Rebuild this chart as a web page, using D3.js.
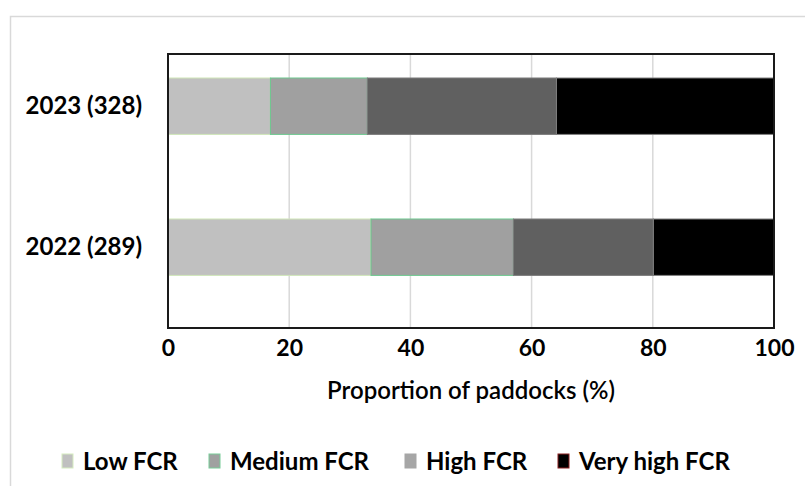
<!DOCTYPE html>
<html>
<head>
<meta charset="utf-8">
<script src="https://cdn.jsdelivr.net/npm/d3@7"></script>
<style>
  html, body { margin: 0; padding: 0; background: #fff; }
  svg { display: block; }
  text { font-family: Lato, "Open Sans", sans-serif; fill: #000; }
</style>
</head>
<body>
<svg id="chart" width="805" height="486"></svg>
<script>
// Paddock counts per year and the share (%) in each FCR class
const years = ["2023 (328)", "2022 (289)"];
const classes = ["Low FCR", "Medium FCR", "High FCR", "Very high FCR"];
const lowFCR      = [16.9, 33.5];
const mediumFCR   = [16.0, 23.5];
const highFCR     = [31.2, 23.1];
const veryHighFCR = [35.9, 19.9];
const xTicks = [0, 20, 40, 60, 80, 100];

// Segment styles per class (bars) and legend swatch styles
const barFill     = ["#c0c0c0", "#a0a0a0", "#606060", "#000000"];
const barStroke   = ["#cfe6b8", "#6cc88e", "#7a7a7a", "#808080"];
const keyFill     = ["#c0c0c0", "#a0a0a0", "#a6a6a6", "#000000"];
const keyStroke   = ["#d6ecc0", "#78cc98", "#a6a6a6", "#8a2020"];

const svg = d3.select("#chart");

// Outer chart-area border
svg.append("rect")
  .attr("x", 10.5).attr("y", 16.5)
  .attr("width", 820).attr("height", 500)
  .attr("fill", "none").attr("stroke", "#d9d9d9").attr("stroke-width", 1.5);

const plot = { left: 168, right: 774, top: 54, bottom: 328 };

const x = d3.scaleLinear().domain([0, 100]).range([plot.left, plot.right]);
const y = d3.scaleBand().domain(years)
  .range([35.7, 317.7]).paddingInner(0.6).paddingOuter(0.3);

// Vertical gridlines
svg.append("g")
  .selectAll("line")
  .data(xTicks.slice(1, -1))
  .join("line")
  .attr("x1", d => x(d)).attr("x2", d => x(d))
  .attr("y1", plot.top).attr("y2", plot.bottom)
  .attr("stroke", "#d9d9d9").attr("stroke-width", 1.5);

// Stack the four classes for each year
const rows = years.map((yr, i) => ({
  year: yr,
  "Low FCR": lowFCR[i],
  "Medium FCR": mediumFCR[i],
  "High FCR": highFCR[i],
  "Very high FCR": veryHighFCR[i]
}));
const stacked = d3.stack().keys(classes)(rows);

svg.append("g")
  .selectAll("g")
  .data(stacked)
  .join("g")
  .attr("fill", (d, i) => barFill[i])
  .attr("stroke", (d, i) => barStroke[i])
  .attr("stroke-width", 1)
  .selectAll("rect")
  .data(d => d)
  .join("rect")
  .attr("x", d => x(d[0]))
  .attr("width", d => x(Math.min(d[1], 100)) - x(d[0]))
  .attr("y", d => y(d.data.year))
  .attr("height", y.bandwidth());

// Plot frame
svg.append("rect")
  .attr("x", plot.left).attr("y", plot.top)
  .attr("width", plot.right - plot.left).attr("height", plot.bottom - plot.top)
  .attr("fill", "none").attr("stroke", "#1a1a1a").attr("stroke-width", 2);

// Category labels
const yAxis = d3.axisLeft(y).tickSize(0).tickPadding(26);
svg.append("g")
  .attr("transform", `translate(${plot.left},0)`)
  .call(yAxis)
  .call(g => g.select(".domain").remove())
  .selectAll("text")
  .attr("font-family", "Lato, sans-serif")
  .attr("font-size", 24).attr("font-weight", 700).attr("fill", "#000");

// Value axis
const xAxis = d3.axisBottom(x).tickValues(xTicks).tickSize(0).tickPadding(12);
svg.append("g")
  .attr("transform", `translate(0,${plot.bottom})`)
  .call(xAxis)
  .call(g => g.select(".domain").remove())
  .selectAll("text")
  .attr("font-family", "Lato, sans-serif")
  .attr("font-size", 23).attr("font-weight", 700).attr("fill", "#000");

svg.append("text")
  .attr("x", 471)
  .attr("y", 399)
  .attr("text-anchor", "middle")
  .attr("font-size", 24).attr("font-weight", 600)
  .text("Proportion of paddocks (%)");

// Legend
const legendX = [62, 209, 405, 558];
const legend = svg.append("g").selectAll("g")
  .data(classes)
  .join("g")
  .attr("transform", (d, i) => `translate(${legendX[i]},454)`);
legend.append("rect")
  .attr("width", 11).attr("height", 14)
  .attr("fill", (d, i) => keyFill[i])
  .attr("stroke", (d, i) => keyStroke[i]).attr("stroke-width", 1);
legend.append("text")
  .attr("x", 21).attr("y", 16)
  .attr("font-size", 24).attr("font-weight", 700)
  .text(d => d);
</script>
</body>
</html>
